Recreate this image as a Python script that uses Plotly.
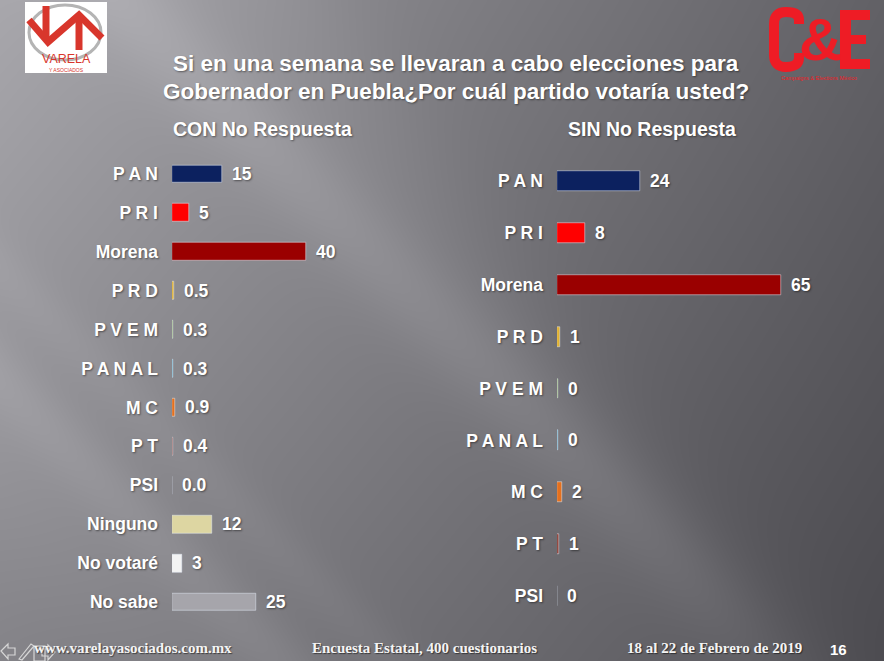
import base64, struct, zlib
import numpy as np
import plotly.graph_objects as go

W, H = 884, 661

# ---------------- data ----------------
cats_con = ["P A N", "P R I", "Morena", "P R D", "P V E M", "P A N A L", "M C", "P T",
            "PSI", "Ninguno", "No votaré", "No sabe"]
vals_con = [15, 5, 40, 0.5, 0.3, 0.3, 0.9, 0.4, 0.0, 12, 3, 25]
labels_con = ["15", "5", "40", "0.5", "0.3", "0.3", "0.9", "0.4", "0.0", "12", "3", "25"]
colors_con = ["#0c215f", "#ff0000", "#9a0000", "#e3b22e", "#8cb65a", "#4ba6c9", "#e5701d",
              "#8a3428", "#808080", "#ddd6a2", "#f3f3f3", "#a6a5ab"]

cats_sin = ["P A N", "P R I", "Morena", "P R D", "P V E M", "P A N A L", "M C", "P T", "PSI"]
vals_sin = [24, 8, 65, 0.9, 0.4, 0.4, 1.5, 0.5, 0]
labels_sin = ["24", "8", "65", "1", "0", "0", "2", "1", "0"]
colors_sin = ["#0c215f", "#ff0000", "#9a0000", "#e3b22e", "#8cb65a", "#4ba6c9", "#e5701d",
              "#8a3428", "#808080"]

title_lines = ["Si en una semana se llevaran a cabo elecciones para",
               "Gobernador en Puebla¿Por cuál partido votaría usted?"]
sub_con = "CON No Respuesta"
sub_sin = "SIN No Respuesta"
footer = ["www.varelayasociados.com.mx", "Encuesta Estatal, 400 cuestionarios",
          "18 al 22 de Febrero de 2019"]
page_no = "16"

# ---------------- background image ----------------
yy, xx = np.mgrid[0:H, 0:W].astype(float)
u, v = xx / W, yy / H
L = 168 * (1 - u) * (1 - v) + 108 * u * (1 - v) + 132 * (1 - u) * v + 86 * u * v
dx, dy = 370.0, 560.0
nrm = np.hypot(dx, dy)
s = ((xx - 330) * dy - (yy - 0) * dx) / nrm
L -= 10 / (1 + np.exp(-s / 25))
def streak(x0, y0, amp, sig, ddx=1.0, ddy=1.0):
    n = np.hypot(ddx, ddy)
    d = ((xx - x0) * ddy - (yy - y0) * ddx) / n
    return amp * np.exp(-d ** 2 / (2 * sig ** 2))
L += streak(0, 380, 9, 22)
L += streak(60, 330, 6, 18)
L += streak(450, 330, 8, 28) * (1 / (1 + np.exp((xx - 760) / 40)))
L += streak(120, 0, 5, 40)
L += streak(-150, 300, 6, 60)
rgb = np.stack([L, L - 1, L + 4], axis=-1).clip(0, 255).astype(np.uint8)

def to_png(img):
    h, w, _ = img.shape
    raw = b"".join(b"\x00" + img[r].tobytes() for r in range(h))
    def chunk(t, d):
        c = struct.pack(">I", len(d)) + t + d
        return c + struct.pack(">I", zlib.crc32(t + d) & 0xFFFFFFFF)
    return (b"\x89PNG\r\n\x1a\n" + chunk(b"IHDR", struct.pack(">IIBBBBB", w, h, 8, 2, 0, 0, 0))
            + chunk(b"IDAT", zlib.compress(raw, 9)) + chunk(b"IEND", b""))

bg_uri = "data:image/png;base64," + base64.b64encode(to_png(rgb)).decode()

# ---------------- figure ----------------
def px(x):
    return x / W
def py(y):
    return 1 - y / H

SANS = "Liberation Sans, Arial, sans-serif"
SHADOW = "1px 1px 2px rgba(0,0,0,0.45)"
lblfont = dict(family=SANS, size=17.5, color="white", weight="bold", shadow=SHADOW)

fig = go.Figure()
fig.add_trace(go.Bar(x=vals_con, y=cats_con, orientation="h", marker_color=colors_con,
                     width=0.46, xaxis="x", yaxis="y", hoverinfo="skip"))
fig.add_trace(go.Bar(x=vals_sin, y=cats_sin, orientation="h", marker_color=colors_sin,
                     width=0.385, xaxis="x2", yaxis="y2", hoverinfo="skip"))

ann = []
for c, v_, t in zip(cats_con, vals_con, labels_con):
    ann.append(dict(x=v_, y=c, xref="x", yref="y", text=t, showarrow=False,
                    xanchor="left", xshift=8, font=lblfont))
for c, v_, t in zip(cats_sin, vals_sin, labels_sin):
    ann.append(dict(x=v_, y=c, xref="x2", yref="y2", text=t, showarrow=False,
                    xanchor="left", xshift=8, font=lblfont))

tfont = dict(family=SANS, size=22.5, color="white", weight="bold", shadow=SHADOW)
ann.append(dict(x=px(456), y=py(63), xref="paper", yref="paper", text=title_lines[0],
                showarrow=False, xanchor="center", yanchor="middle", font=tfont))
ann.append(dict(x=px(456), y=py(91), xref="paper", yref="paper", text=title_lines[1],
                showarrow=False, xanchor="center", yanchor="middle", font=tfont))
sfont = dict(family=SANS, size=19.5, color="white", weight="bold", shadow=SHADOW)
ann.append(dict(x=px(262), y=py(129), xref="paper", yref="paper", text=sub_con,
                showarrow=False, xanchor="center", yanchor="middle", font=sfont))
ann.append(dict(x=px(652), y=py(129), xref="paper", yref="paper", text=sub_sin,
                showarrow=False, xanchor="center", yanchor="middle", font=sfont))

ffont = dict(family="Liberation Serif, DejaVu Serif, serif", size=15, color="#f4f4f4",
             weight="bold", shadow="1px 1px 1px rgba(0,0,0,0.5)")
for xx_, t in zip([32, 310, 625], footer):
    ann.append(dict(x=px(xx_), y=py(648), xref="paper", yref="paper", text=t, showarrow=False,
                    xanchor="left", yanchor="middle", font=ffont))
ann.append(dict(x=px(838), y=py(649), xref="paper", yref="paper", text=page_no, showarrow=False,
                xanchor="center", yanchor="middle",
                font=dict(family=SANS, size=15, color="white", weight="bold")))

# logos
RED1 = "#d8362c"
ann.append(dict(x=px(66), y=py(59), xref="paper", yref="paper", text="VARELA", showarrow=False,
                xanchor="center", yanchor="middle",
                font=dict(family=SANS, size=12.5, color=RED1)))
ann.append(dict(x=px(66), y=py(69.5), xref="paper", yref="paper", text="Y ASOCIADOS",
                showarrow=False, xanchor="center", yanchor="middle",
                font=dict(family=SANS, size=5, color=RED1)))
RED2 = "#ee1c25"
ann.append(dict(x=px(820), y=py(39), xref="paper", yref="paper", text="&amp;", showarrow=False,
                xanchor="center", yanchor="middle",
                font=dict(family=SANS, size=60, color=RED2, weight="bold")))
ann.append(dict(x=px(819), y=py(78), xref="paper", yref="paper",
                text="Campaigns &amp; Elections México", showarrow=False,
                xanchor="center", yanchor="middle",
                font=dict(family=SANS, size=5.5, color=RED2)))

def P(x, y):
    return f"{px(x)},{py(y)}"

shapes = [
    dict(type="rect", xref="paper", yref="paper", x0=px(25), x1=px(107), y0=py(73), y1=py(2),
         fillcolor="white", line=dict(width=0), layer="above"),
    dict(type="circle", xref="paper", yref="paper", x0=px(29), x1=px(101), y0=py(60), y1=py(5),
         fillcolor="rgba(0,0,0,0)", line=dict(color="#b4b4b4", width=3), layer="above"),
    dict(type="path", xref="paper", yref="paper", layer="above",
         path=f"M {P(29, 20)} L {P(48, 42)} L {P(79, 15)} L {P(102, 38)}",
         line=dict(color=RED1, width=7)),
    dict(type="line", xref="paper", yref="paper", layer="above",
         x0=px(46), x1=px(46), y0=py(6), y1=py(38), line=dict(color=RED1, width=7)),
    dict(type="line", xref="paper", yref="paper", layer="above",
         x0=px(79), x1=px(79), y0=py(18), y1=py(50), line=dict(color=RED1, width=7)),
    # C&E logo: "C" and "E" drawn as condensed strokes
    dict(type="path", xref="paper", yref="paper", layer="above",
         path=(f"M {P(799, 24)} L {P(799, 20)} Q {P(799, 12)} {P(786, 12)} "
               f"Q {P(774, 12)} {P(774, 24)} L {P(774, 55)} Q {P(774, 67)} {P(786, 67)} "
               f"Q {P(799, 67)} {P(799, 58)} L {P(799, 53)}"),
         line=dict(color=RED2, width=10)),
    dict(type="rect", xref="paper", yref="paper", layer="above", x0=px(840), x1=px(851),
         y0=py(69), y1=py(10), fillcolor=RED2, line=dict(width=0)),
    dict(type="rect", xref="paper", yref="paper", layer="above", x0=px(840), x1=px(870),
         y0=py(20), y1=py(10), fillcolor=RED2, line=dict(width=0)),
    dict(type="rect", xref="paper", yref="paper", layer="above", x0=px(840), x1=px(866),
         y0=py(44), y1=py(35), fillcolor=RED2, line=dict(width=0)),
    dict(type="rect", xref="paper", yref="paper", layer="above", x0=px(840), x1=px(870),
         y0=py(69), y1=py(59), fillcolor=RED2, line=dict(width=0)),
    # slide navigation icons (bottom-left)
    dict(type="path", xref="paper", yref="paper", layer="above",
         path=(f"M {P(1, 651)} L {P(8, 644)} L {P(8, 648)} L {P(15, 648)} L {P(15, 655)} "
               f"L {P(8, 655)} L {P(8, 659)} Z"),
         line=dict(color="#d6d6d6", width=1.2)),
    dict(type="path", xref="paper", yref="paper", layer="above",
         path=f"M {P(19, 659)} L {P(31, 644)} L {P(34, 646)} L {P(22, 660)} Z",
         line=dict(color="#d6d6d6", width=1.2)),
    dict(type="rect", xref="paper", yref="paper", layer="above", x0=px(34), x1=px(45),
         y0=py(661), y1=py(646), fillcolor="rgba(0,0,0,0)", line=dict(color="#d6d6d6", width=1.2)),
    dict(type="path", xref="paper", yref="paper", layer="above",
         path=(f"M {P(55, 652)} L {P(48, 645)} L {P(48, 649)} L {P(42, 649)} L {P(42, 656)} "
               f"L {P(48, 656)} L {P(48, 660)} Z"),
         line=dict(color="#d6d6d6", width=1.2)),
]

fig.update_layout(
    width=W, height=H, autosize=False,
    margin=dict(l=0, r=0, t=0, b=0),
    paper_bgcolor="#7a797e", plot_bgcolor="rgba(0,0,0,0)",
    showlegend=False, bargap=0,
    images=[dict(source=bg_uri, xref="paper", yref="paper", x=0, y=1, sizex=1, sizey=1,
                 xanchor="left", yanchor="top", sizing="stretch", layer="below")],
    annotations=ann, shapes=shapes,
    xaxis=dict(domain=[px(172), px(172 + 80 * 3.36)], range=[0, 80], visible=False),
    xaxis2=dict(domain=[px(557), px(557 + 80 * 3.44)], range=[0, 80], visible=False),
    yaxis=dict(domain=[py(621.5), py(154.5)], type="category", categoryorder="array",
               categoryarray=cats_con, range=[len(cats_con) - 0.5, -0.5], showgrid=False,
               zeroline=False, showline=False, ticks="", ticklabelstandoff=13,
               tickfont=lblfont, anchor="x"),
    yaxis2=dict(domain=[py(622), py(155)], type="category", categoryorder="array",
                categoryarray=cats_sin, range=[len(cats_sin) - 0.5, -0.5], showgrid=False,
                zeroline=False, showline=False, ticks="", ticklabelstandoff=13,
                tickfont=lblfont, anchor="x2"),
)

fig.write_html("out.html")
